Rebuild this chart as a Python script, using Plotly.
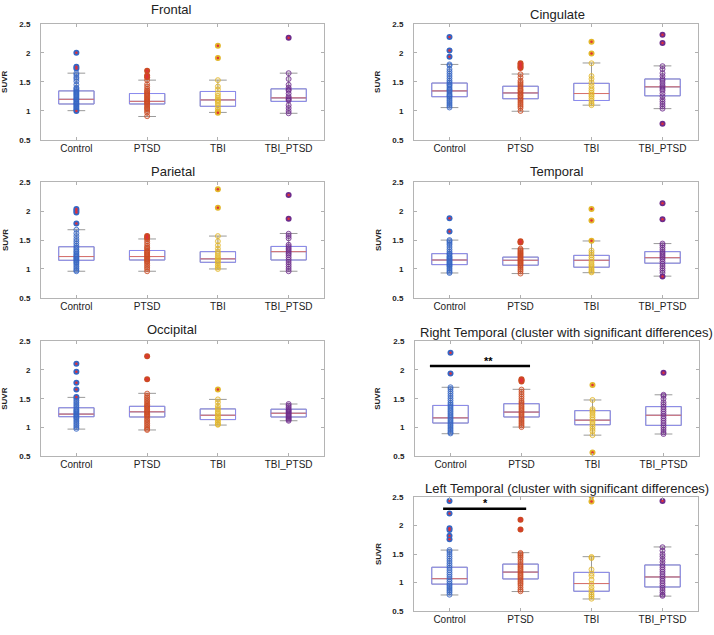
import plotly.graph_objects as go

groups = ['Control', 'PTSD', 'TBI', 'TBI_PTSD']
group_colors = ['#3566c4', '#cc4a22', '#e2b62a', '#6e2c8c']
group_fills = ['rgba(53,102,196,0.2)', 'rgba(204,74,34,0.2)',
               'rgba(226,182,42,0.2)', 'rgba(110,44,140,0.2)']

# box statistics per group: q1, median, q3, lower / upper whisker
frontal_q1 = [1.12, 1.12, 1.08, 1.165]
frontal_med = [1.20, 1.165, 1.19, 1.225]
frontal_q3 = [1.345, 1.30, 1.335, 1.38]
frontal_lo = [1.005, 0.905, 0.975, 0.96]
frontal_hi = [1.65, 1.53, 1.53, 1.65]
frontal_pts = [
    [2.00, 1.76, 1.73, 1.65, 1.62, 1.58, 1.55, 1.51, 1.45, 1.40, 1.38, 1.36, 1.34, 1.32, 1.30, 1.28,
     1.26, 1.24, 1.22, 1.20, 1.19, 1.17, 1.15, 1.13, 1.12, 1.10, 1.08, 1.06, 1.04, 1.02, 1.00],
    [1.69, 1.61, 1.58, 1.53, 1.46, 1.42, 1.38, 1.35, 1.33, 1.31, 1.29, 1.27, 1.25, 1.23, 1.21, 1.19,
     1.17, 1.16, 1.14, 1.12, 1.10, 1.07, 1.05, 1.03, 1.00, 0.97, 0.91],
    [2.12, 1.91, 1.53, 1.42, 1.37, 1.30, 1.26, 1.22, 1.19, 1.17, 1.14, 1.10, 1.06, 1.02, 0.99, 0.97],
    [2.26, 1.65, 1.55, 1.45, 1.40, 1.37, 1.35, 1.30, 1.25, 1.22, 1.20, 1.18, 1.10, 1.05, 1.00, 0.96],
]

cingulate_q1 = [1.245, 1.21, 1.18, 1.26]
cingulate_med = [1.345, 1.31, 1.30, 1.415]
cingulate_q3 = [1.48, 1.425, 1.475, 1.55]
cingulate_lo = [1.058, 0.995, 1.10, 1.04]
cingulate_hi = [1.80, 1.635, 1.825, 1.775]
cingulate_pts = [
    [2.27, 2.04, 1.93, 1.80, 1.78, 1.72, 1.68, 1.64, 1.60, 1.56, 1.52, 1.49, 1.46, 1.44, 1.41, 1.38,
     1.36, 1.34, 1.31, 1.28, 1.26, 1.24, 1.21, 1.18, 1.15, 1.12, 1.09, 1.06],
    [1.82, 1.79, 1.76, 1.74, 1.63, 1.58, 1.52, 1.49, 1.46, 1.43, 1.40, 1.37, 1.35, 1.32, 1.30, 1.27,
     1.25, 1.22, 1.20, 1.17, 1.14, 1.11, 1.08, 1.05, 1.00],
    [2.19, 1.99, 1.82, 1.60, 1.55, 1.49, 1.44, 1.39, 1.35, 1.31, 1.28, 1.25, 1.21, 1.17, 1.13, 1.10],
    [2.31, 2.17, 1.77, 1.72, 1.65, 1.60, 1.55, 1.52, 1.48, 1.44, 1.41, 1.38, 1.35, 1.30, 1.25, 1.20,
     1.16, 1.12, 1.08, 1.04, 0.78],
]

parietal_q1 = [1.15, 1.155, 1.115, 1.155]
parietal_med = [1.215, 1.215, 1.175, 1.30]
parietal_q3 = [1.385, 1.32, 1.30, 1.39]
parietal_lo = [0.96, 0.96, 1.00, 0.96]
parietal_hi = [1.68, 1.52, 1.57, 1.615]
parietal_pts = [
    [2.04, 2.01, 1.98, 1.79, 1.68, 1.62, 1.57, 1.52, 1.48, 1.44, 1.40, 1.37, 1.34, 1.31, 1.29, 1.26,
     1.24, 1.22, 1.20, 1.18, 1.16, 1.14, 1.12, 1.10, 1.07, 1.04, 1.01, 0.98, 0.96],
    [1.57, 1.54, 1.52, 1.48, 1.44, 1.40, 1.37, 1.35, 1.32, 1.30, 1.28, 1.26, 1.24, 1.22, 1.20, 1.18,
     1.16, 1.14, 1.12, 1.09, 1.06, 1.03, 1.00, 0.96],
    [2.38, 2.06, 1.57, 1.48, 1.41, 1.35, 1.30, 1.26, 1.22, 1.19, 1.16, 1.13, 1.10, 1.06, 1.03, 1.00],
    [2.28, 1.87, 1.61, 1.57, 1.53, 1.42, 1.39, 1.36, 1.33, 1.30, 1.27, 1.24, 1.20, 1.16, 1.12, 1.08,
     1.04, 1.00, 0.96],
]

temporal_q1 = [1.075, 1.065, 1.03, 1.10]
temporal_med = [1.155, 1.15, 1.15, 1.195]
temporal_q3 = [1.265, 1.205, 1.235, 1.30]
temporal_lo = [0.93, 0.92, 0.935, 0.875]
temporal_hi = [1.50, 1.35, 1.485, 1.44]
temporal_pts = [
    [1.88, 1.65, 1.50, 1.48, 1.45, 1.42, 1.38, 1.34, 1.30, 1.27, 1.25, 1.22, 1.20, 1.18, 1.16, 1.14,
     1.12, 1.10, 1.08, 1.06, 1.04, 1.01, 0.98, 0.95, 0.93],
    [1.48, 1.46, 1.35, 1.33, 1.31, 1.29, 1.27, 1.25, 1.23, 1.21, 1.19, 1.17, 1.15, 1.13, 1.11, 1.09,
     1.07, 1.05, 1.02, 0.99, 0.96, 0.92],
    [2.04, 1.84, 1.49, 1.32, 1.28, 1.24, 1.20, 1.16, 1.12, 1.08, 1.05, 1.02, 0.99, 0.96, 0.94],
    [2.14, 1.86, 1.44, 1.41, 1.37, 1.33, 1.29, 1.26, 1.23, 1.20, 1.17, 1.13, 1.09, 1.05, 1.01, 0.97,
     0.93, 0.87],
]

occipital_q1 = [1.19, 1.185, 1.14, 1.185]
occipital_med = [1.235, 1.275, 1.215, 1.25]
occipital_q3 = [1.345, 1.37, 1.325, 1.32]
occipital_lo = [0.975, 0.96, 1.045, 1.12]
occipital_hi = [1.525, 1.595, 1.49, 1.41]
occipital_pts = [
    [2.11, 1.97, 1.78, 1.66, 1.53, 1.50, 1.47, 1.44, 1.41, 1.38, 1.35, 1.32, 1.30, 1.28, 1.26, 1.24,
     1.22, 1.20, 1.18, 1.16, 1.13, 1.10, 1.07, 1.04, 1.01, 0.98],
    [2.24, 1.84, 1.59, 1.55, 1.52, 1.49, 1.46, 1.43, 1.40, 1.38, 1.36, 1.34, 1.31, 1.29, 1.27, 1.25,
     1.23, 1.21, 1.19, 1.16, 1.13, 1.10, 1.07, 1.04, 1.01, 0.98, 0.96],
    [1.66, 1.49, 1.44, 1.38, 1.34, 1.31, 1.27, 1.24, 1.21, 1.18, 1.15, 1.12, 1.09, 1.06, 1.05],
    [1.41, 1.38, 1.35, 1.32, 1.30, 1.28, 1.26, 1.24, 1.22, 1.20, 1.18, 1.16, 1.14, 1.12],
]

rtemporal_q1 = [1.08, 1.185, 1.05, 1.04]
rtemporal_med = [1.17, 1.27, 1.13, 1.215]
rtemporal_q3 = [1.385, 1.415, 1.295, 1.365]
rtemporal_lo = [0.895, 1.01, 0.87, 0.89]
rtemporal_hi = [1.70, 1.665, 1.48, 1.57]
rtemporal_pts = [
    [2.30, 1.94, 1.70, 1.67, 1.63, 1.59, 1.55, 1.51, 1.47, 1.43, 1.40, 1.37, 1.34, 1.31, 1.28, 1.25,
     1.22, 1.19, 1.16, 1.13, 1.10, 1.07, 1.04, 1.01, 0.98, 0.95, 0.92, 0.90],
    [1.84, 1.82, 1.80, 1.66, 1.62, 1.58, 1.54, 1.50, 1.46, 1.43, 1.40, 1.37, 1.34, 1.31, 1.28, 1.25,
     1.22, 1.19, 1.16, 1.13, 1.10, 1.07, 1.04, 1.01],
    [1.74, 1.48, 1.32, 1.29, 1.26, 1.22, 1.18, 1.14, 1.10, 1.06, 1.02, 0.98, 0.94, 0.87, 0.57],
    [1.95, 1.57, 1.55, 1.50, 1.44, 1.40, 1.36, 1.32, 1.28, 1.24, 1.20, 1.16, 1.12, 1.08, 1.04, 1.00,
     0.96, 0.92, 0.89],
]

ltemporal_q1 = [0.975, 1.065, 0.85, 0.925]
ltemporal_med = [1.07, 1.185, 0.985, 1.10]
ltemporal_q3 = [1.27, 1.325, 1.18, 1.31]
ltemporal_lo = [0.785, 0.845, 0.715, 0.765]
ltemporal_hi = [1.57, 1.525, 1.455, 1.625]
ltemporal_pts = [
    [2.43, 2.21, 1.95, 1.92, 1.82, 1.76, 1.57, 1.54, 1.50, 1.46, 1.42, 1.38, 1.34, 1.30, 1.26, 1.22,
     1.18, 1.14, 1.10, 1.06, 1.02, 0.98, 0.95, 0.92, 0.89, 0.86, 0.83, 0.79],
    [2.10, 1.93, 1.52, 1.50, 1.47, 1.44, 1.40, 1.36, 1.32, 1.29, 1.26, 1.23, 1.20, 1.17, 1.14, 1.11,
     1.08, 1.05, 1.02, 0.99, 0.96, 0.92, 0.88, 0.85],
    [2.51, 2.42, 1.45, 1.43, 1.23, 1.16, 1.12, 1.05, 0.98, 0.92, 0.87, 0.83, 0.79, 0.76, 0.72],
    [2.43, 1.62, 1.56, 1.50, 1.46, 1.41, 1.36, 1.31, 1.27, 1.23, 1.19, 1.15, 1.11, 1.07, 1.03, 0.99,
     0.95, 0.91, 0.87, 0.83, 0.79, 0.77],
]

# significance bars (right / left temporal): start, end, height, label
sig_x0 = [0.71, 0.91]
sig_x1 = [2.12, 2.08]
sig_y = [2.07, 2.295]
sig_label = ['**', '*']
sig_label_x = [1.54, 1.50]
sig_label_y = [2.16, 2.39]

regions = [
    ('Frontal', frontal_q1, frontal_med, frontal_q3, frontal_lo, frontal_hi, frontal_pts),
    ('Cingulate', cingulate_q1, cingulate_med, cingulate_q3, cingulate_lo, cingulate_hi, cingulate_pts),
    ('Parietal', parietal_q1, parietal_med, parietal_q3, parietal_lo, parietal_hi, parietal_pts),
    ('Temporal', temporal_q1, temporal_med, temporal_q3, temporal_lo, temporal_hi, temporal_pts),
    ('Occipital', occipital_q1, occipital_med, occipital_q3, occipital_lo, occipital_hi, occipital_pts),
    ('Right Temporal (cluster with significant differences)',
     rtemporal_q1, rtemporal_med, rtemporal_q3, rtemporal_lo, rtemporal_hi, rtemporal_pts),
    ('Left Temporal (cluster with significant differences)',
     ltemporal_q1, ltemporal_med, ltemporal_q3, ltemporal_lo, ltemporal_hi, ltemporal_pts),
]

# panel frames in pixels: left, right, top, bottom; title centre x, y; ylabel x
W, H = 714, 635
panels = [
    (41, 324, 20, 138, 171, 6, 5),
    (414, 698, 20, 138, 557, 11, 378),
    (41, 324, 181, 298, 173, 170, 5),
    (414, 698, 181, 298, 557, 170, 378),
    (41, 324, 342, 459, 172, 330, 5),
    (415, 699, 342, 459, 566, 333, 378),
    (414, 698, 500, 616, 567, 491, 378),
]

FONT = 'Liberation Sans, Arial, sans-serif'
BOX_BLUE = '#8b8bef'
WHISKER = '#9a9a9a'
MEDIAN_RED = '#d9736b'
positions = [1, 2, 3, 4]

fig = go.Figure()
annotations = []
layout_axes = {}

for i, (name, q1, med, q3, lo, hi, pts) in enumerate(regions):
    xa, ya = f'x{i + 1}', f'y{i + 1}'
    left, right, top, bottom, tx, ty, lx = panels[i]

    # grey whiskers and caps
    fig.add_trace(go.Box(x=positions, q1=q1, median=med, q3=q3, lowerfence=lo, upperfence=hi,
                         width=0.5, whiskerwidth=0.5, boxpoints=False,
                         line=dict(color=WHISKER, width=1), fillcolor='rgba(0,0,0,0)',
                         xaxis=xa, yaxis=ya, showlegend=False, hoverinfo='skip'))
    # blue box outline
    fig.add_trace(go.Box(x=positions, q1=q1, median=med, q3=q3, lowerfence=q1, upperfence=q3,
                         width=0.5, whiskerwidth=0, boxpoints=False,
                         line=dict(color=BOX_BLUE, width=1), fillcolor='rgba(0,0,0,0)',
                         xaxis=xa, yaxis=ya, showlegend=False, hoverinfo='skip'))
    # red median
    mx, my = [], []
    for p, m in zip(positions, med):
        mx += [p - 0.25, p + 0.25, None]
        my += [m, m, None]
    fig.add_trace(go.Scatter(x=mx, y=my, mode='lines', line=dict(color=MEDIAN_RED, width=1),
                             xaxis=xa, yaxis=ya, showlegend=False, hoverinfo='skip'))

    for g, p in enumerate(positions):
        vals = pts[g]
        inl = [v for v in vals if lo[g] <= v <= hi[g]]
        out = [v for v in vals if v < lo[g] or v > hi[g]]
        fig.add_trace(go.Scatter(
            x=[p] * len(inl), y=inl, mode='markers',
            marker=dict(size=5, color=group_fills[g], line=dict(color=group_colors[g], width=0.8)),
            xaxis=xa, yaxis=ya, showlegend=False, name=groups[g]))
        # outliers: filled dot with the red '+' of the boxplot showing through
        fig.add_trace(go.Scatter(
            x=[p] * len(out), y=out, mode='markers',
            marker=dict(size=6, color=group_colors[g], line=dict(width=0)),
            xaxis=xa, yaxis=ya, showlegend=False, name=groups[g]))
        fig.add_trace(go.Scatter(
            x=[p] * len(out), y=out, mode='markers',
            marker=dict(size=2.5, color='#e0303a', line=dict(width=0)),
            xaxis=xa, yaxis=ya, showlegend=False, hoverinfo='skip'))

    layout_axes[f'xaxis{i + 1}'] = dict(
        domain=[left / W, right / W], anchor=ya, range=[0.5, 4.5],
        tickvals=positions, ticktext=groups, ticks='inside', ticklen=3, tickcolor='#b0b0b0',
        showline=True, linecolor='#b4b4b4', linewidth=1, mirror='ticks', showgrid=False,
        zeroline=False, ticklabelstandoff=-1,
        tickfont=dict(family=FONT, size=10, color='#222222'))
    layout_axes[f'yaxis{i + 1}'] = dict(
        domain=[1 - bottom / H, 1 - top / H], anchor=xa, range=[0.5, 2.5],
        tickvals=[0.5, 1, 1.5, 2, 2.5], ticktext=['0.5', '1', '1.5', '2', '2.5'],
        ticks='inside', ticklen=3, tickcolor='#b0b0b0',
        showline=True, linecolor='#b4b4b4', linewidth=1, mirror='ticks', showgrid=False,
        zeroline=False, ticklabelstandoff=8,
        tickfont=dict(family=FONT, size=8, color='#222222', weight='bold'))

    annotations.append(dict(text=name, x=tx / W, y=1 - ty / H, xref='paper', yref='paper',
                            xanchor='center', yanchor='middle', showarrow=False,
                            font=dict(family=FONT, size=13, color='#222222')))
    annotations.append(dict(text='SUVR', x=lx / W, y=1 - (top + bottom) / 2 / H,
                            xref='paper', yref='paper', textangle=-90,
                            xanchor='center', yanchor='middle', showarrow=False,
                            font=dict(family=FONT, size=8, color='#222222', weight='bold')))

# significance bars
for k, i in enumerate([5, 6]):
    xa, ya = f'x{i + 1}', f'y{i + 1}'
    fig.add_trace(go.Scatter(x=[sig_x0[k], sig_x1[k]], y=[sig_y[k], sig_y[k]], mode='lines',
                             line=dict(color='black', width=2.5), xaxis=xa, yaxis=ya,
                             showlegend=False, hoverinfo='skip'))
    annotations.append(dict(text=sig_label[k], x=sig_label_x[k], y=sig_label_y[k],
                            xref=xa, yref=ya, showarrow=False, xanchor='center', yanchor='middle',
                            font=dict(family=FONT, size=11, color='black', weight='bold')))

fig.update_layout(
    width=W, height=H, margin=dict(l=0, r=0, t=0, b=0),
    paper_bgcolor='white', plot_bgcolor='white',
    annotations=annotations, showlegend=False,
    **layout_axes,
)

fig.write_html('out.html', config={'displayModeBar': False},
               post_script="document.body.style.margin='0';")
